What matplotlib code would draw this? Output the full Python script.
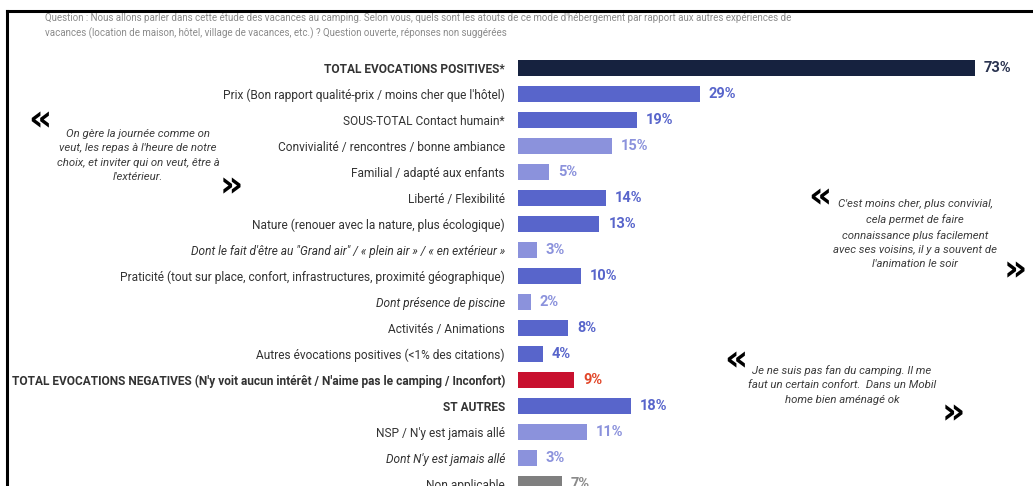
import matplotlib
matplotlib.use("Agg")
import matplotlib.pyplot as plt
from matplotlib.lines import Line2D

plt.rcParams['font.family'] = ['Roboto', 'DejaVu Sans']

labels = [
    "TOTAL EVOCATIONS POSITIVES*",
    "Prix (Bon rapport qualité-prix / moins cher que l'hôtel)",
    "SOUS-TOTAL Contact humain*",
    "Convivialité / rencontres / bonne ambiance",
    "Familial / adapté aux enfants",
    "Liberté / Flexibilité",
    "Nature (renouer avec la nature, plus écologique)",
    "Dont le fait d'être au \"Grand air\" / « plein air » / « en extérieur »",
    "Praticité (tout sur place, confort, infrastructures, proximité géographique)",
    "Dont présence de piscine",
    "Activités / Animations",
    "Autres évocations positives (<1% des citations)",
    "TOTAL EVOCATIONS NEGATIVES (N'y voit aucun intérêt / N'aime pas le camping / Inconfort)",
    "ST AUTRES",
    "NSP / N'y est jamais allé",
    "Dont N'y est jamais allé",
    "Non applicable",
]
values = [73, 29, 19, 15, 5, 14, 13, 3, 10, 2, 8, 4, 9, 18, 11, 3, 7]
kinds = ["total", "main", "main", "sub", "sub", "main", "main", "sub", "main",
         "sub", "main", "main", "neg", "main", "sub", "sub", "na"]

question = ("Question : Nous allons parler dans cette étude des vacances au camping. "
            "Selon vous, quels sont les atouts de ce mode d'hébergement par rapport aux autres expériences de\n"
            "vacances (location de maison, hôtel, village de vacances, etc.) ? Question ouverte, réponses non suggérées")

quotes = [
    "On gère la journée comme on\nveut, les repas à l'heure de notre\nchoix, et inviter qui on veut, être à\nl'extérieur.",
    "C'est moins cher, plus convivial,\ncela permet de faire\nconnaissance plus facilement\navec ses voisins, il y a souvent de\nl'animation le soir",
    "Je ne suis pas fan du camping. Il me\nfaut un certain confort.  Dans un Mobil\nhome bien aménagé ok",
]

bar_colors = {"total": "#16223f", "main": "#5865cb", "sub": "#8b92dc",
              "neg": "#c8102e", "na": "#7f7f7f"}
text_colors = {"total": "#2a3350", "main": "#5865cb", "sub": "#8b92dc",
               "neg": "#e2472a", "na": "#8a8a8a"}

W, H = 1033, 486
fig = plt.figure(figsize=(W / 100, H / 100), dpi=100)

ax = fig.add_axes([518 / W, 0, (W - 518) / W, 1])
rows = list(range(len(values)))
ax.barh(rows, values, height=0.65, color=[bar_colors[k] for k in kinds])
for i, (v, k) in enumerate(zip(values, kinds)):
    ax.annotate(f"{v}%", (v, i), xytext=(6.5, 0), textcoords="offset points",
                va="center", ha="left", fontsize=10.5, fontweight="bold",
                color=text_colors[k])

ax.set_xlim(0, 73 * (W - 518) / 457)
ax.set_ylim((H - 68) / 26, -68 / 26)
ax.set_yticks(rows)
ax.set_yticklabels(labels, fontsize=8.6, color="#333333")
ax.tick_params(axis="y", length=0, pad=9.4)
for tl, k, i in zip(ax.get_yticklabels(), kinds, rows):
    if k in ("total", "neg") or i == 13:
        tl.set_fontweight("bold")
    if i in (7, 9, 15):
        tl.set_fontstyle("italic")
ax.set_xticks([])
for s in ax.spines.values():
    s.set_visible(False)

# question header
fig.text(45 / W, 1 - 13 / H, question, fontsize=7, color="#8a8a8a",
         va="top", ha="left", linespacing=1.5)

# verbatim quotes with chevrons
def quote(txt, cx, ty, open_xy, close_xy):
    fig.text(cx / W, 1 - ty / H, txt, fontsize=8.2, style="italic",
             color="#3c3c3c", ha="center", va="top", linespacing=1.55)
    fig.text(open_xy[0] / W, 1 - open_xy[1] / H, "«", fontsize=26,
             fontweight="bold", ha="center", va="center", family="DejaVu Sans")
    fig.text(close_xy[0] / W, 1 - close_xy[1] / H, "»", fontsize=26,
             fontweight="bold", ha="center", va="center", family="DejaVu Sans")

quote(quotes[0], 138, 129, (40, 120), (231, 186))
quote(quotes[1], 915, 199, (820, 197), (1015, 270))
quote(quotes[2], 842, 365, (736, 360), (953, 413))

# frame lines
fig.add_artist(Line2D([7 / W, 1], [1 - 11 / H, 1 - 11 / H], color="black", lw=2.2,
                      transform=fig.transFigure))
fig.add_artist(Line2D([7 / W, 7 / W], [0, 1 - 11 / H], color="black", lw=2.2,
                      transform=fig.transFigure))

fig.savefig("out.png", dpi=100)
